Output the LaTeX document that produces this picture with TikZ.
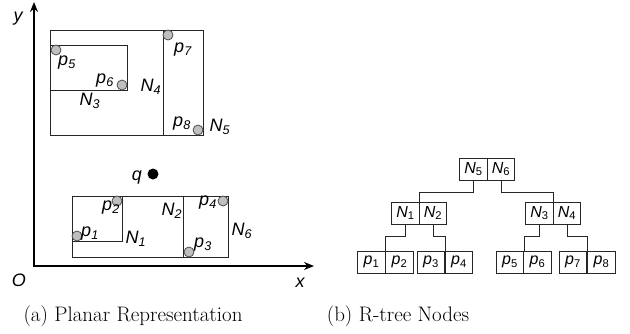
\documentclass[tikz,border=0pt]{standalone}
\usepackage{fontspec}
\newfontfamily\arialf{Liberation Sans}
\usetikzlibrary{arrows.meta}
\newcommand{\lbl}[2]{#1\textsubscript{#2}}

\begin{document}
\begin{tikzpicture}[x=1pt,y=-1pt,>={Stealth[length=10pt,width=8pt]}]
\tikzstyle{lab}=[font=\arialf\itshape\fontsize{18}{18}\selectfont,inner sep=0pt]
\tikzstyle{pt}=[circle,draw=black!70,fill=black!25,line width=0.8pt,minimum size=10pt,inner sep=0pt]
\tikzstyle{mbr}=[draw=black!85,line width=1pt]
\tikzstyle{cell}=[draw=black!85,line width=0.8pt,minimum width=27.5pt,minimum height=22pt,inner sep=0pt,font=\arialf\fontsize{16}{16}\selectfont]
\tikzstyle{link}=[draw=black!85,line width=0.8pt]
\tikzstyle{captext}=[font=\fontsize{21}{24}\selectfont,inner sep=0pt]
\useasboundingbox (0,0) rectangle (630,333);
% (a) planar representation
\coordinate (O) at (34,266); \coordinate (ytip) at (34,2); \coordinate (xtip) at (314,266);
\draw[<->,line width=1.6pt] (ytip) -- (O) -- (xtip);
\node[lab] (ylab) at (18,19) {y}; \node[lab] (olab) at (19,280) {O}; \node[lab] (xlab) at (300,283) {x};
\draw[mbr] (50,30) rectangle (203,135); \draw[mbr] (50,45) rectangle (127,90);
\draw[mbr] (163,30) rectangle (203,135);
\draw[mbr] (72,196) rectangle (228,257); \draw[mbr] (72,196) rectangle (122,241);
\draw[mbr] (183,196) rectangle (228,257);
\node[pt] (p5) at (56,50) {}; \node[pt] (p6) at (122,85) {}; \node[pt] (p7) at (168,35) {}; \node[pt] (p8) at (198,130) {};
\node[pt] (p2) at (117,201) {}; \node[pt] (p1) at (77,236) {}; \node[pt] (p4) at (223,201) {}; \node[pt] (p3) at (189,252) {};
\node[circle,fill=black,minimum size=11pt,inner sep=0pt] (q) at (153,174) {};
\node[lab] (qlab) at (137,178) {q};
\node[lab] (p5lab) at (67,63) {\lbl{p}{5}}; \node[lab] (p6lab) at (105,81) {\lbl{p}{6}};
\node[lab] (n3lab) at (90,101) {\lbl{N}{3}}; \node[lab] (n4lab) at (151,87) {\lbl{N}{4}};
\node[lab] (p7lab) at (183,50) {\lbl{p}{7}}; \node[lab] (p8lab) at (182,124) {\lbl{p}{8}};
\node[lab] (n5lab) at (220,127) {\lbl{N}{5}};
\node[lab] (p2lab) at (111,208) {\lbl{p}{2}}; \node[lab] (p1lab) at (90,234) {\lbl{p}{1}};
\node[lab] (n1lab) at (136,239) {\lbl{N}{1}}; \node[lab] (n2lab) at (172,211) {\lbl{N}{2}};
\node[lab] (p4lab) at (208,203) {\lbl{p}{4}}; \node[lab] (p3lab) at (203,245) {\lbl{p}{3}};
\node[lab] (n6lab) at (242,231) {\lbl{N}{6}};
% (b) R-tree nodes
\node[cell] (tn5) at (473.5,169) {\lbl{\textit{N}}{5}}; \node[cell] (tn6) at (501,169) {\lbl{\textit{N}}{6}};
\node[cell] (tn1) at (405.5,213) {\lbl{\textit{N}}{1}}; \node[cell] (tn2) at (433,213) {\lbl{\textit{N}}{2}};
\node[cell] (tn3) at (539.5,213) {\lbl{\textit{N}}{3}}; \node[cell] (tn4) at (567,213) {\lbl{\textit{N}}{4}};
\node[cell] (tp1) at (371.5,262) {\lbl{\textit{p}}{1}}; \node[cell] (tp2) at (399.5,262) {\lbl{\textit{p}}{2}};
\node[cell] (tp3) at (431,262) {\lbl{\textit{p}}{3}}; \node[cell] (tp4) at (459,262) {\lbl{\textit{p}}{4}};
\node[cell] (tp5) at (510,262) {\lbl{\textit{p}}{5}}; \node[cell] (tp6) at (537.5,262) {\lbl{\textit{p}}{6}};
\node[cell] (tp7) at (573,262) {\lbl{\textit{p}}{7}}; \node[cell] (tp8) at (601.5,262) {\lbl{\textit{p}}{8}};
\draw[link] (tn5.south) -- ++(0,12) -| (tn1.north east); \draw[link] (tn6.south) -- ++(0,12) -| (tn3.north east);
\draw[link] (tn1.south) -- ++(0,12) -| (tp1.north east); \draw[link] (tn2.south) -- ++(0,12) -| (tp3.north east);
\draw[link] (tn3.south) -- ++(0,12) -| (tp5.north east); \draw[link] (tn4.south) -- ++(0,12) -| (tp7.north east);
% captions
\node[captext] (capa) at (133,316) {(a) Planar Representation};
\node[captext] (capb) at (398,316) {(b) R-tree Nodes};
\end{tikzpicture}
\end{document}
